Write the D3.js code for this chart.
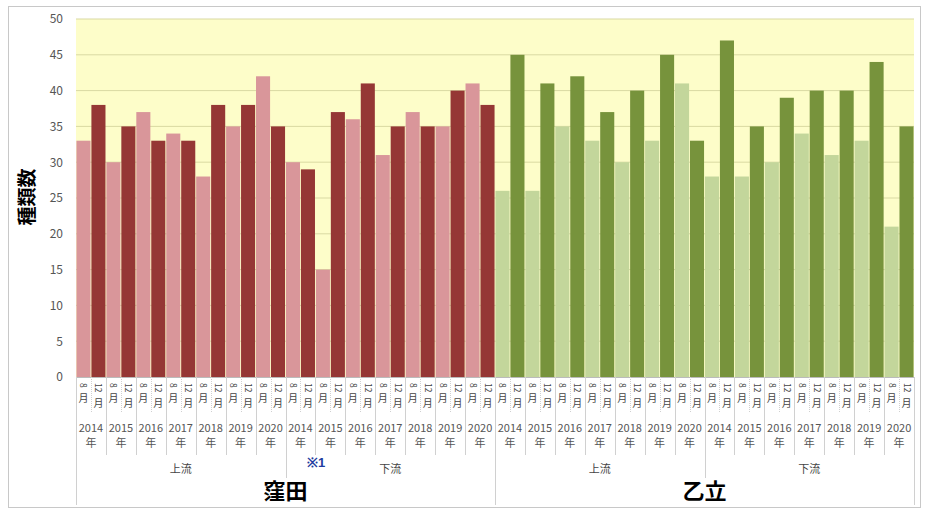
<!DOCTYPE html>
<html><head><meta charset="utf-8">
<script src="https://cdn.jsdelivr.net/npm/d3@7"></script>
<style>body{margin:0;background:#fff}svg{display:block}</style>
</head><body>
<svg id="c" width="926" height="510"></svg>
<script>
const sites = ["窪田", "乙立"];
const sections = ["上流", "下流"];
const years = ["2014", "2015", "2016", "2017", "2018", "2019", "2020"];
const months = ["8月", "12月"];
const monthNums = ["8", "12"];
// values per year
const kubotaUpAug  = [33, 30, 37, 34, 28, 35, 42];
const kubotaUpDec  = [38, 35, 33, 33, 38, 38, 35];
const kubotaDnAug  = [30, 15, 36, 31, 37, 35, 41];
const kubotaDnDec  = [29, 37, 41, 35, 35, 40, 38];
const otachiUpAug  = [26, 26, 35, 33, 30, 33, 41];
const otachiUpDec  = [45, 41, 42, 37, 40, 45, 33];
const otachiDnAug  = [28, 28, 30, 34, 31, 33, 21];
const otachiDnDec  = [47, 35, 39, 40, 40, 44, 35];
const yTicks = [0, 5, 10, 15, 20, 25, 30, 35, 40, 45, 50];

const seriesTable = [
  [[kubotaUpAug, kubotaUpDec], [kubotaDnAug, kubotaDnDec]],
  [[otachiUpAug, otachiUpDec], [otachiDnAug, otachiDnDec]]
];
const colors = [["#d9969a", "#953735"], ["#c3d69b", "#77933c"]];

const rows = [];
sites.forEach((s, si) => sections.forEach((sec, ki) => years.forEach((y, yi) => months.forEach((m, mi) => {
  rows.push({site: s, si, sec, ki, year: y, yi, month: m, num: monthNums[mi], mi,
    key: `${si}-${ki}-${yi}-${mi}`, value: seriesTable[si][ki][mi][yi]});
}))));

const L = 76, R = 914, T = 19, B = 377;
const svg = d3.select("#c");
const x = d3.scaleBand().domain(rows.map(d => d.key)).range([L, R]).paddingInner(0.06).paddingOuter(0.03);
const xs = d3.scaleBand().domain(rows.map(d => d.key)).range([L, R]);
const y = d3.scaleLinear().domain([0, 50]).range([B, T]);
const font = "'Noto Sans CJK JP', 'Noto Sans', sans-serif";

// outer frame
svg.append("rect").attr("x", 8.5).attr("y", 6.5).attr("width", 912).attr("height", 501)
  .attr("fill", "none").attr("stroke", "#c8c8c8");

// plot background
svg.append("rect").attr("x", L).attr("y", T).attr("width", R - L).attr("height", B - T).attr("fill", "#fdfdc9");

// gridlines
svg.append("g").selectAll("line").data(yTicks.filter(t => t > 0)).join("line")
  .attr("x1", L).attr("x2", R).attr("y1", d => y(d)).attr("y2", d => y(d))
  .attr("stroke", "#d9d9a3").attr("stroke-width", 1);

// y axis
const yAxis = svg.append("g").attr("transform", `translate(${L},0)`)
  .call(d3.axisLeft(y).tickValues(yTicks).tickSize(0).tickPadding(13));
yAxis.select(".domain").remove();
yAxis.selectAll("text").attr("font-family", font).attr("font-size", 12).attr("fill", "#555");

// bars
svg.append("g").selectAll("rect").data(rows).join("rect")
  .attr("x", d => x(d.key)).attr("width", x.bandwidth())
  .attr("y", d => y(d.value)).attr("height", d => y(0) - y(d.value))
  .attr("fill", d => colors[d.si][d.mi]);

// category axis lines
const g = svg.append("g").attr("stroke", "#d0d0d0").attr("stroke-width", 1);
g.append("line").attr("x1", L).attr("x2", R).attr("y1", B + 0.5).attr("y2", B + 0.5).attr("stroke", "#bbb");
rows.forEach((d, i) => {
  const bx = Math.round(xs(d.key)) + 0.5;
  let len;
  if (i === 0) len = 505;
  else if (d.mi === 1) len = 412;
  else if (d.yi !== 0) len = 455;
  else if (d.ki !== 0) len = 478;
  else len = 505;
  g.append("line").attr("x1", bx).attr("x2", bx).attr("y1", B).attr("y2", len)
    .attr("stroke-dasharray", d.mi === 1 ? "1,1" : null);
});
g.append("line").attr("x1", R + 0.5).attr("x2", R + 0.5).attr("y1", B).attr("y2", 505);

// month labels: digits rotated, 月 upright
const ml = svg.append("g").attr("font-family", font).attr("fill", "#444");
ml.selectAll("text.num").data(rows).join("text").attr("class", "num")
  .attr("transform", d => `translate(${xs(d.key) + xs.bandwidth() / 2 - 3},383) rotate(90)`)
  .attr("font-size", 8.5).text(d => d.num);
ml.selectAll("text.tsuki").data(rows).join("text").attr("class", "tsuki")
  .attr("x", d => xs(d.key) + xs.bandwidth() / 2).attr("y", d => d.mi === 0 ? 402 : 407)
  .attr("text-anchor", "middle").attr("font-size", 10).text("月");

// year labels
const yearRows = rows.filter(d => d.mi === 0);
const yl = svg.append("g").attr("font-family", font).attr("font-size", 11).attr("fill", "#555").attr("text-anchor", "middle");
yl.selectAll("text.yr").data(yearRows).join("text").attr("class", "yr")
  .attr("x", d => xs(d.key) + xs.bandwidth()).attr("y", 432).text(d => d.year);
yl.selectAll("text.nen").data(yearRows).join("text").attr("class", "nen")
  .attr("x", d => xs(d.key) + xs.bandwidth()).attr("y", 447).text("年");

// section labels
const secRows = rows.filter(d => d.yi === 0 && d.mi === 0);
svg.append("g").selectAll("text").data(secRows).join("text")
  .attr("x", d => xs(d.key) + xs.bandwidth() * 7).attr("y", 473)
  .attr("text-anchor", "middle").attr("font-family", font).attr("font-size", 11).attr("fill", "#444")
  .text(d => d.sec);

// site labels
const siteRows = rows.filter(d => d.ki === 0 && d.yi === 0 && d.mi === 0);
svg.append("g").selectAll("text").data(siteRows).join("text")
  .attr("x", d => xs(d.key) + xs.bandwidth() * 14).attr("y", 499)
  .attr("text-anchor", "middle").attr("font-family", font).attr("font-size", 22).attr("font-weight", "bold").attr("fill", "#000")
  .text(d => d.site);

// note
svg.append("text").attr("x", 316).attr("y", 467).attr("text-anchor", "middle")
  .attr("font-family", "'Liberation Sans', Arial, sans-serif").attr("font-size", 13).attr("font-weight", "bold").attr("fill", "#1f3ca0").text("※1");

// y title
svg.append("text").attr("transform", "translate(34,197) rotate(-90)").attr("text-anchor", "middle")
  .attr("font-family", font).attr("font-size", 19).attr("font-weight", "bold").attr("fill", "#000").text("種類数");
</script>
</body></html>
